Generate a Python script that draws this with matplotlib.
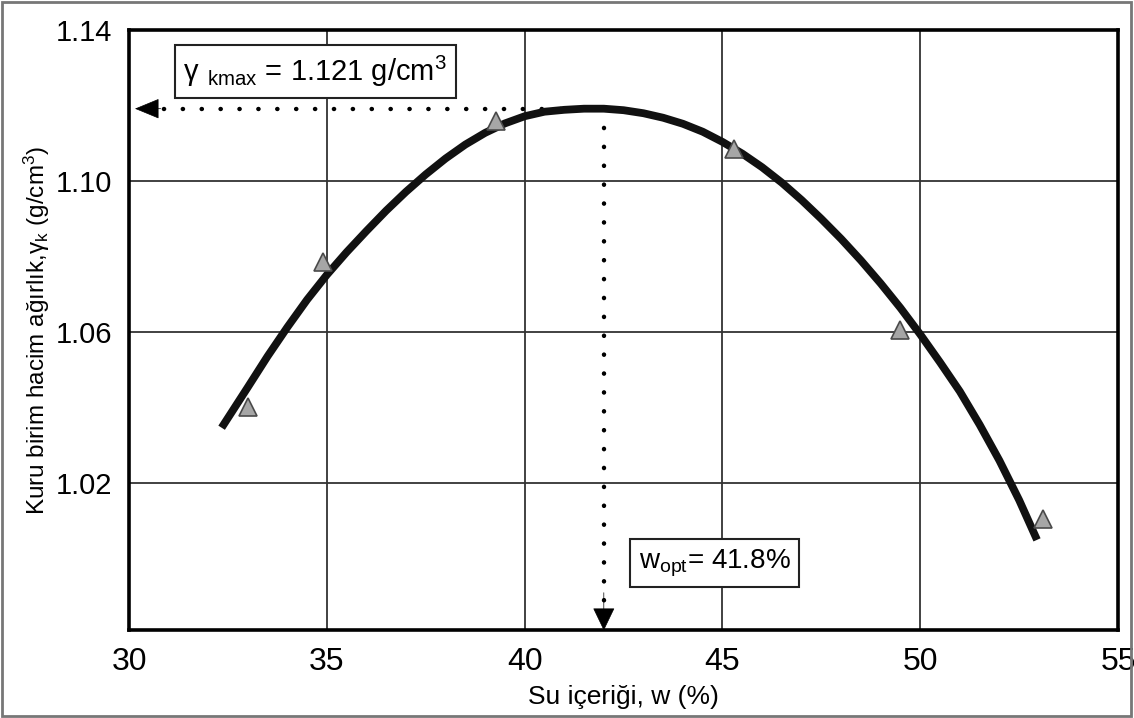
import numpy as np
import matplotlib
matplotlib.use('Agg')
import matplotlib.pyplot as plt
from matplotlib.patches import Rectangle

plt.rcParams['font.family'] = ['Liberation Sans', 'DejaVu Sans']
plt.rcParams['mathtext.default'] = 'regular'
narrow = ['Liberation Sans Narrow', 'Liberation Sans', 'DejaVu Sans']

# measured points (triangles)
w_data = [33.0, 34.89, 39.27, 45.28, 49.49, 53.09]
gk_data = [1.0403, 1.0787, 1.116, 1.1085, 1.0605, 1.0106]

# compaction curve
w_curve = [32.34, 33.0, 33.5, 34.0, 34.5, 35.0, 35.5, 36.0, 36.5, 37.0, 37.5,
           38.0, 38.5, 39.0, 39.5, 40.0, 40.5, 41.0, 41.5, 42.0, 42.5, 43.0,
           43.5, 44.0, 44.5, 45.0, 45.5, 46.0, 46.5, 47.0, 47.5, 48.0, 48.5,
           49.0, 49.5, 50.0, 50.5, 51.0, 51.5, 52.0, 52.5, 52.95]
gk_curve = [1.0347, 1.0454, 1.0536, 1.0613, 1.0686, 1.0752, 1.0812, 1.0868,
            1.0922, 1.0972, 1.1018, 1.1060, 1.1097, 1.1128, 1.1153, 1.1172,
            1.1184, 1.1189, 1.1192, 1.1192, 1.1188, 1.1180, 1.1168, 1.1152,
            1.1131, 1.1104, 1.1073, 1.1037, 1.0996, 1.0950, 1.0900, 1.0847,
            1.0790, 1.0729, 1.0664, 1.0594, 1.0520, 1.0443, 1.0355, 1.0260,
            1.0155, 1.0050]

# optimum (as drawn)
w_opt = 42.0
gk_max = 1.1192

xticks = [30, 35, 40, 45, 50, 55]
yticks = [1.02, 1.06, 1.10, 1.14]
ytick_labels = ['1.02', '1.06', '1.10', '1.14']

fig = plt.figure(figsize=(11.34, 7.18), dpi=100)
ax = fig.add_axes([0.1138, 0.1219, 0.8722, 0.8361])

ax.set_xlim(30, 55)
ax.set_ylim(0.981, 1.14)
ax.set_xticks(xticks)
ax.set_yticks(yticks)
ax.set_yticklabels(ytick_labels)
ax.grid(True, color='#333333', lw=1.3)
ax.set_axisbelow(True)
ax.tick_params(length=0, pad=12)
for lab in ax.get_xticklabels():
    lab.set_family(narrow)
    lab.set_fontsize(23)
for lab in ax.get_yticklabels():
    lab.set_fontsize(21)
for s in ax.spines.values():
    s.set_linewidth(2.6)
    s.set_color('black')

# curve
ax.plot(w_curve, gk_curve, color='#111111', lw=5.6, solid_capstyle='butt',
        solid_joinstyle='round', zorder=3)
# data
ax.plot(w_data, gk_data, linestyle='none', marker='^', ms=13,
        mfc='#a6a6a6', mec='#4a4a4a', mew=1.2, zorder=4)

# dotted guides
dots = (0, (0.05, 4.2))
ax.plot([30.4, w_opt], [gk_max, gk_max], color='black', lw=3.2, ls=dots,
        dash_capstyle='round', zorder=2)
ax.plot([w_opt, w_opt], [gk_max, 0.986], color='black', lw=3.2, ls=dots,
        dash_capstyle='round', zorder=2)
ax.annotate('', xy=(30.15, gk_max), xytext=(30.8, gk_max),
            arrowprops=dict(arrowstyle='-|>,head_length=0.8,head_width=0.33',
                            color='black', lw=0.5, shrinkA=0, shrinkB=0,
                            mutation_scale=20), zorder=5)
ax.annotate('', xy=(w_opt, 0.981), xytext=(w_opt, 0.991),
            arrowprops=dict(arrowstyle='-|>,head_length=0.75,head_width=0.36',
                            color='black', lw=0.5, shrinkA=0, shrinkB=0,
                            mutation_scale=20), zorder=5)

box = dict(boxstyle='square,pad=0.3', fc='white', ec='#222222', lw=1.5)
ax.text(34.71, 1.1291, r'$\gamma\ _{kmax}$ = 1.121 g/cm$^3$', fontsize=21,
        ha='center', va='center', bbox=box, zorder=6)
ax.text(44.8, 0.9988, r'$w_{opt}$= 41.8%', fontsize=20,
        ha='center', va='center', bbox=box, zorder=6)

ax.set_xlabel('Su içeriği, w (%)', family=narrow, fontsize=19, labelpad=6)
ax.set_ylabel(r'Kuru birim hacim ağırlık,$\gamma_k$ (g/cm$^3$)', family=narrow,
              fontsize=17.5, labelpad=3)

fig.patches.append(Rectangle((0.002, 0.003), 0.995, 0.994, transform=fig.transFigure,
                             fill=False, ec='#777777', lw=2))

plt.savefig('out.png', dpi=100)
